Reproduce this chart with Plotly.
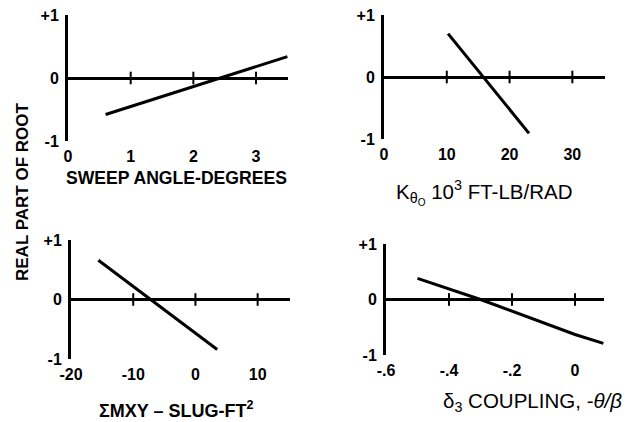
import plotly.graph_objects as go

W, H = 637, 422

# ---- data ----
sweep_x = [0.6, 3.5]
sweep_y = [-0.58, 0.34]

ktheta_x = [10.2, 23.1]
ktheta_y = [0.70, -0.91]

mxy_x = [-15.6, 3.5]
mxy_y = [0.66, -0.84]

d3_x = [-0.5, -0.3, 0.0, 0.09]
d3_y = [0.38, 0.0, -0.63, -0.79]

y_tickvals = [-1, 0, 1]
y_ticktext = ["-1", "0", "+1"]

p1_ticks = [0, 1, 2, 3]
p2_ticks = [0, 10, 20, 30]
p3_ticks = [-20, -10, 0, 10]
p4_ticks = [-0.6, -0.4, -0.2, 0]
p4_ticktext = ["-.6", "-.4", "-.2", "0"]

FONT = "Liberation Sans"


def px_dom_x(a, b):
    return [a / W, b / W]


def px_dom_y(top, bottom):
    return [1 - bottom / H, 1 - top / H]


panels = [
    dict(xs=sweep_x, ys=sweep_y, ticks=p1_ticks, ticktext=[str(t) for t in p1_ticks],
         xr=[0, 3.51], xd=px_dom_x(68, 288), yd=px_dom_y(15, 141)),
    dict(xs=ktheta_x, ys=ktheta_y, ticks=p2_ticks, ticktext=[str(t) for t in p2_ticks],
         xr=[0, 35.2], xd=px_dom_x(384, 605), yd=px_dom_y(15, 139)),
    dict(xs=mxy_x, ys=mxy_y, ticks=p3_ticks, ticktext=["-20", "-10", "0", "10"],
         xr=[-20, 15.2], xd=px_dom_x(71, 290), yd=px_dom_y(240, 359)),
    dict(xs=d3_x, ys=d3_y, ticks=p4_ticks, ticktext=p4_ticktext,
         xr=[-0.6, 0.092], xd=px_dom_x(386, 604), yd=px_dom_y(244, 355)),
]

fig = go.Figure()
layout = dict(
    width=W, height=H,
    margin=dict(l=0, r=0, t=0, b=0, autoexpand=False),
    paper_bgcolor="white", plot_bgcolor="white",
    showlegend=False,
    font=dict(family=FONT, color="black"),
)

for i, p in enumerate(panels):
    n = "" if i == 0 else str(i + 1)
    xa, ya = "x" + n, "y" + n
    # data curve
    fig.add_trace(go.Scatter(x=p["xs"], y=p["ys"], mode="lines",
                             line=dict(color="black", width=3),
                             xaxis=xa, yaxis=ya, hoverinfo="skip"))
    # crossing tick marks on the zero line
    cross = [t for t in p["ticks"] if t != p["ticks"][0]]
    fig.add_trace(go.Scatter(x=cross, y=[0] * len(cross), mode="markers",
                             marker=dict(symbol="line-ns", size=9,
                                         line=dict(color="black", width=2)),
                             xaxis=xa, yaxis=ya, hoverinfo="skip"))
    layout["xaxis" + n] = dict(
        domain=p["xd"], range=p["xr"], anchor=ya, automargin=False,
        showline=False, showgrid=False, zeroline=False,
        ticks="", tickvals=p["ticks"], ticktext=p["ticktext"],
        ticklabelstandoff=4,
        tickfont=dict(family=FONT, size=16, weight="bold", color="black"),
    )
    layout["yaxis" + n] = dict(
        domain=p["yd"], range=[-1, 1], anchor=xa, automargin=False,
        showline=True, linecolor="black", linewidth=3,
        showgrid=False, zeroline=True, zerolinecolor="black", zerolinewidth=3,
        ticks="inside", ticklen=5, tickwidth=3, tickcolor="black",
        tickvals=y_tickvals, ticktext=y_ticktext, ticklabelstandoff=3,
        tickfont=dict(family=FONT, size=16, weight="bold", color="black"),
    )

ann = [
    dict(text="REAL PART OF ROOT", x=22 / W, y=1 - 192 / H, textangle=-90,
         font=dict(size=17, weight="bold")),
    dict(text="SWEEP ANGLE-DEGREES", x=176 / W, y=1 - 178 / H,
         font=dict(size=17.6, weight="bold")),
    dict(text="K<sub>θ<sub>O</sub></sub> 10<sup>3</sup> FT-LB/RAD", x=484 / W, y=1 - 192 / H,
         font=dict(size=20.5)),
    dict(text="ΣMXY – SLUG-FT<sup>2</sup>", x=176 / W, y=1 - 409 / H,
         font=dict(size=18, weight="bold")),
    dict(text="δ<sub>3</sub> COUPLING, <i>-θ/β</i>", x=532 / W, y=1 - 402 / H,
         font=dict(size=20.5)),
]
layout["annotations"] = [
    dict(xref="paper", yref="paper", showarrow=False, xanchor="center", yanchor="middle",
         **{k: v for k, v in a.items() if k != "font"},
         font=dict(family=FONT, color="black", **a["font"]))
    for a in ann
]

fig.update_layout(**layout)
fig.write_html("out.html")
